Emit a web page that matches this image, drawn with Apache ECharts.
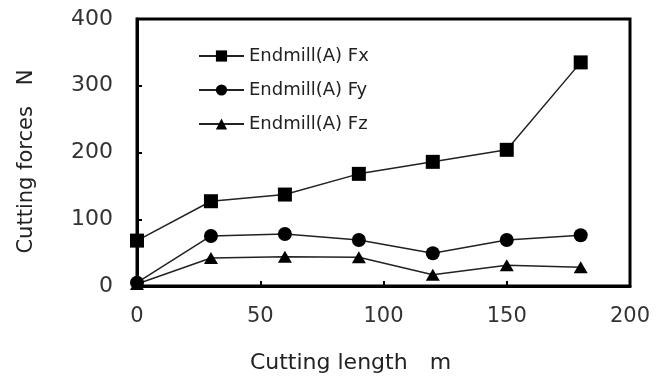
<!DOCTYPE html>
<html>
<head>
<meta charset="utf-8">
<script src="https://cdn.jsdelivr.net/npm/echarts@6/dist/echarts.min.js"></script>
<style>
  html, body { margin: 0; padding: 0; background: #fff; }
  #chart { width: 664px; height: 379px; }
</style>
</head>
<body>
<div id="chart"></div>
<script>
// cutting length (m)
const lengths = [0, 30, 60, 90, 120, 150, 180]
// cutting forces (N)
const fx = [68, 127, 137, 168, 186, 204, 335]
const fy = [5, 75, 78, 69, 49, 69, 76]
const fz = [3, 42, 44, 43, 17, 31, 28]
const seriesNames = ['Endmill(A) Fx', 'Endmill(A) Fy', 'Endmill(A) Fz']
const symbols = ['rect', 'circle', 'triangle']

const font = 'DejaVu Sans'
const chart = echarts.init(document.getElementById('chart'))

const series = [fx, fy, fz].map((vals, i) => ({
  name: seriesNames[i],
  type: 'line',
  data: lengths.map((x, j) => [x, vals[j]]),
  symbol: symbols[i],
  symbolSize: symbols[i] === 'triangle' ? [14, 12] : 14,
  lineStyle: { color: '#222', width: 1.5 },
  itemStyle: { color: '#000' },
  z: 3,
}))

chart.setOption({
  animation: false,
  backgroundColor: '#fff',
  grid: {
    left: 137, right: 34, top: 19, bottom: 82,
    show: true, borderColor: '#000', borderWidth: 3,
  },
  legend: {
    orient: 'vertical',
    left: 193,
    top: 42,
    itemWidth: 45,
    itemHeight: 14,
    itemGap: 16,
    textStyle: { fontFamily: font, fontSize: 18, color: '#222' },
    data: seriesNames,
  },
  xAxis: {
    type: 'value',
    min: 0, max: 200, interval: 50,
    name: 'Cutting length\u3000m',
    nameLocation: 'middle',
    nameGap: 66,
    nameTextStyle: { fontFamily: font, fontSize: 22, color: '#222', padding: [0, 66, 0, 0] },
    axisLine: { lineStyle: { color: '#000', width: 3 } },
    axisTick: { inside: true, length: 5, lineStyle: { color: '#000', width: 2 } },
    axisLabel: { fontFamily: font, fontSize: 21, color: '#333', margin: 20 },
    splitLine: { show: false },
  },
  yAxis: {
    type: 'value',
    min: 0, max: 400, interval: 100,
    name: 'Cutting forces\u3000N',
    nameLocation: 'middle',
    nameGap: 100,
    nameRotate: 90,
    nameTextStyle: { fontFamily: font, fontSize: 21, color: '#222', padding: [0, 18, 0, 0] },
    axisLine: { lineStyle: { color: '#000', width: 3 } },
    axisTick: { inside: true, length: 5, lineStyle: { color: '#000', width: 2 } },
    axisLabel: { fontFamily: font, fontSize: 22, color: '#333', margin: 24 },
    splitLine: { show: false },
  },
  series: series,
})
</script>
</body>
</html>
